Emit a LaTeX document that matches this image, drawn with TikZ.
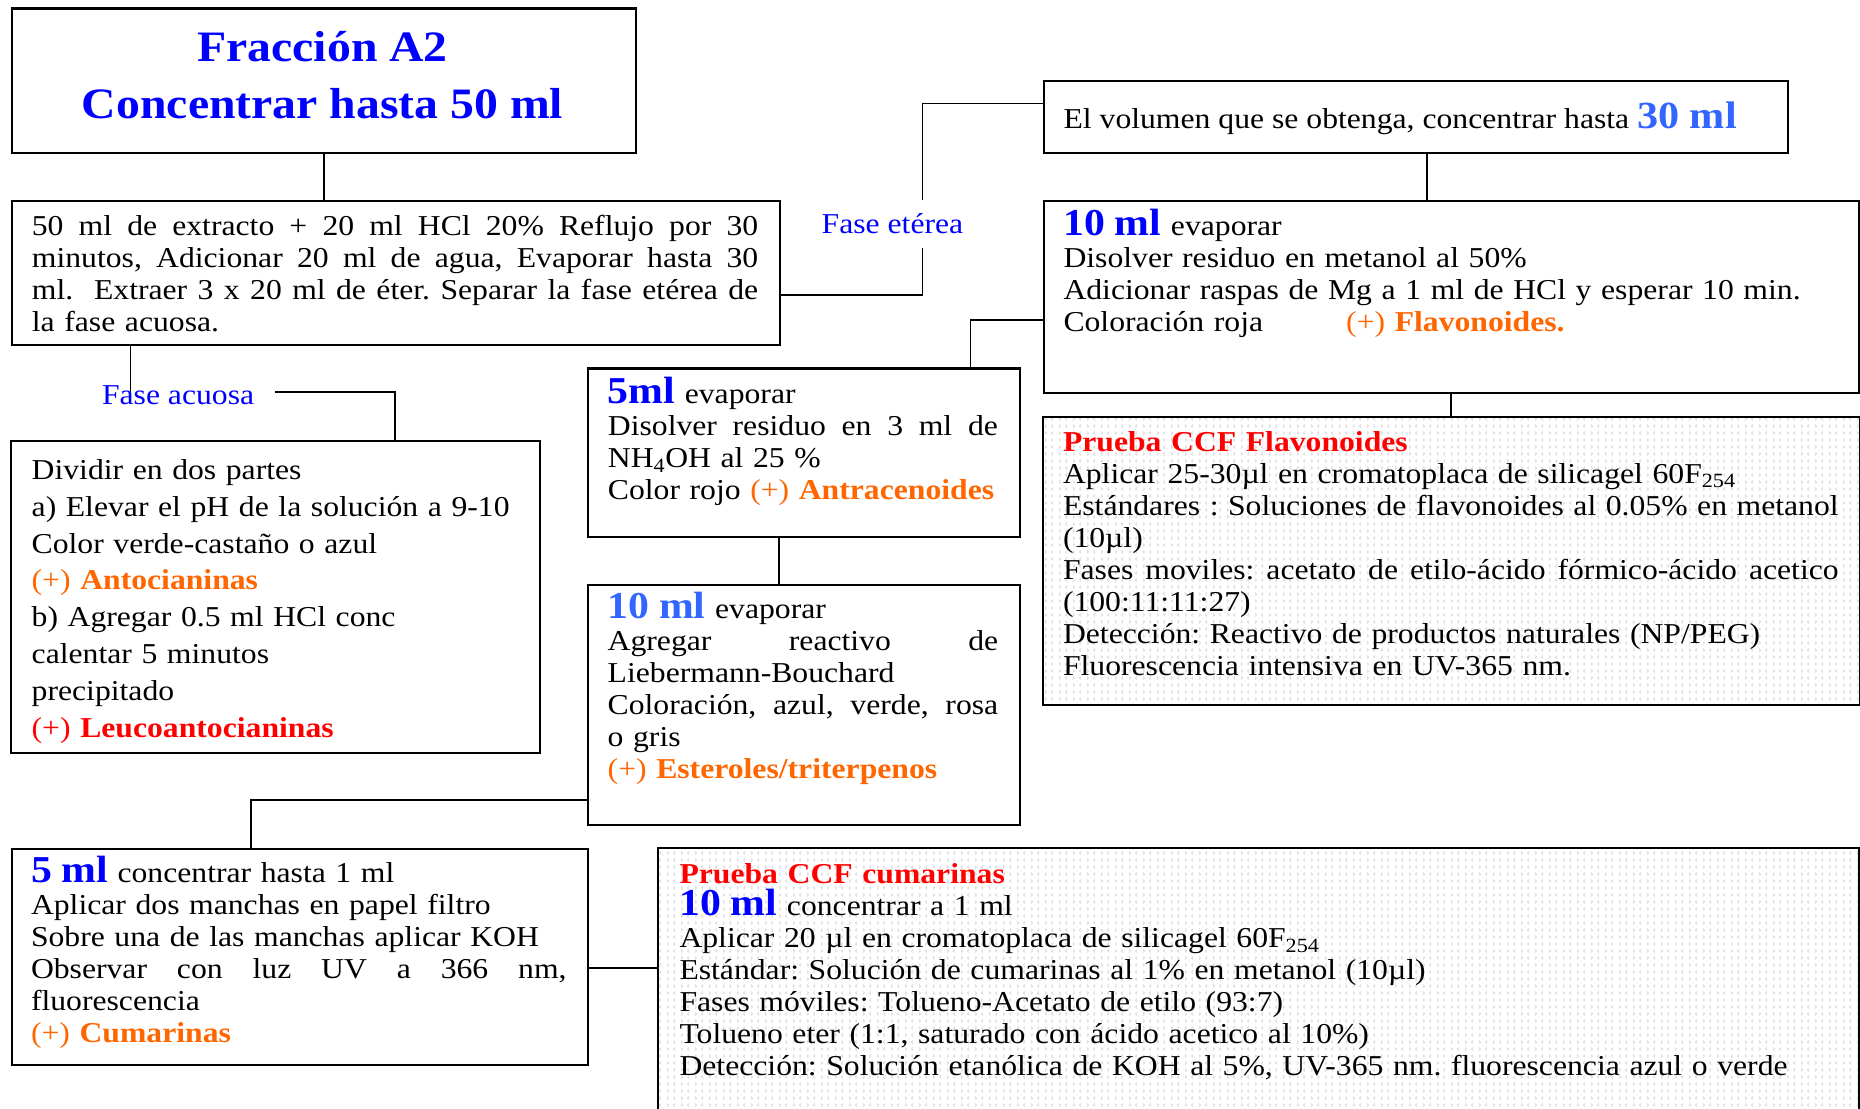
\documentclass[tikz,border=0pt]{standalone}
\usepackage{fontspec}
\setmainfont{Liberation Serif}[FakeStretch=1.1]
\usetikzlibrary{patterns}
\setlength{\parindent}{0pt}
\frenchspacing
\definecolor{tblue}{RGB}{0,0,255}
\definecolor{lblue}{RGB}{51,102,255}
\definecolor{torange}{RGB}{255,102,0}
\definecolor{tred}{RGB}{255,0,0}
\pgfdeclarepatternformonly{chevs}{\pgfpoint{-1pt}{-1pt}}{\pgfpoint{15pt}{8pt}}{\pgfpoint{14pt}{7pt}}{%
  \pgfsetlinewidth{0.5pt}%
  \pgfpathmoveto{\pgfpoint{3pt}{1.5pt}}\pgfpathlineto{\pgfpoint{1.5pt}{3pt}}\pgfpathlineto{\pgfpoint{3pt}{4.5pt}}%
  \pgfpathmoveto{\pgfpoint{9pt}{1.5pt}}\pgfpathlineto{\pgfpoint{10.5pt}{3pt}}\pgfpathlineto{\pgfpoint{9pt}{4.5pt}}%
  \pgfusepath{stroke}}
\newcommand\jl[2]{\leavevmode\hbox to #1{\spaceskip=\fontdimen2\font plus 1fil\relax\xspaceskip=\spaceskip #2}}
\newcommand\bigml[2]{{\fontsize{38}{32}\selectfont\bfseries\color{#1}#2}}
\newcommand\posres[2]{{\color{#1}(+) \textbf{#2}}}
\newcommand\firstrule{\rule{0pt}{30pt}}
\newcommand\bodyfont{\fontsize{28.8}{32}\selectfont\frenchspacing}
\newcommand\widefont{\fontsize{28.8}{36.8}\selectfont\frenchspacing}
\begin{document}
\begin{tikzpicture}[x=1pt,y=-1pt,
  box/.style={draw, line width=2.2pt, inner sep=0pt, anchor=north west},
  patbox/.style={box, pattern=chevs, pattern color=black!22},
  txt/.style={inner sep=0pt, anchor=north west, align=left, font=\bodyfont},
  one/.style={inner sep=0pt, anchor=base west, font=\bodyfont},
  conn/.style={line width=1.6pt}]
\useasboundingbox (0,0) rectangle (1860,1108);
\fill[white] (0,0) rectangle (1860,1108);

% boxes
\node[box, minimum width=623.9pt, minimum height=144.5pt] (A) at (10.7,7.5) {};
\node[box, minimum width=768pt, minimum height=143.7pt] (B) at (10.7,200) {};
\node[box, minimum width=744.3pt, minimum height=72pt] (C) at (1042.7,80) {};
\node[box, minimum width=815.3pt, minimum height=191.7pt] (D) at (1042.7,200) {};
\node[patbox, minimum width=816.9pt, minimum height=288.3pt] (E) at (1041.6,415.7) {};
\node[box, minimum width=529pt, minimum height=312pt] (F) at (10,440) {};
\node[box, minimum width=432pt, minimum height=168.7pt] (G) at (586.7,367.3) {};
\node[box, minimum width=432pt, minimum height=240.3pt] (H) at (586.7,583.7) {};
\node[box, minimum width=575.9pt, minimum height=216.3pt] (I) at (10.7,847.7) {};
\node[patbox, minimum width=1200.6pt, minimum height=300pt] (J) at (657,846.7) {};

% connectors
\coordinate (etLow) at (922.3,248);
\coordinate (etHigh) at (922.3,200);
\coordinate (acEnd) at (130.5,393);
\coordinate (acStart) at (274.6,392);
\draw[conn] (A.south) -- (A.south |- B.north);
\draw[conn] (B.east |- 0,295) -| (etLow);
\draw[conn] (etHigh) |- (C.west |- 0,103.3);
\draw[conn] (C.south -| 1427,0) -- (D.north -| 1427,0);
\draw[conn] (D.west |- 0,320) -| (G.north -| 970.3,0);
\draw[conn] (D.south -| 1450.9,0) -- (E.north -| 1450.9,0);
\draw[conn] (B.south -| acEnd) -- (acEnd);
\draw[conn] (acStart) -| (F.north -| 395,0);
\draw[conn] (G.south -| 779,0) -- (H.north -| 779,0);
\draw[conn] (H.west |- 0,800) -| (I.north -| 250.7,0);
\draw[conn] (I.east |- 0,967.7) -- (J.west |- 0,967.7);

% title
\node[inner sep=0pt, anchor=north, align=center, text=tblue,
  font=\bfseries\fontsize{43.4}{56.3}\selectfont] (tA) at (322.6,21.7)
  {\rule{0pt}{40pt}Fracción A2\\Concentrar hasta 50 ml};

% B
\node[txt, text width=730pt] (tB) at (31.7,205) {\firstrule\jl{726.3pt}{50 ml de extracto + 20 ml HCl 20\% Reflujo por 30}\\
\jl{726.3pt}{minutos, Adicionar 20 ml de agua, Evaporar hasta 30}\\
\jl{726.3pt}{ml.\space\space Extraer 3 x 20 ml de éter. Separar la fase etérea de}\\
la fase acuosa.};

% labels
\node[one, text=tblue] (lEt) at (821.5,233) {Fase etérea};
\node[one, text=tblue] (lAc) at (101.8,404) {Fase acuosa};

% C
\node[one] (tC) at (1063.4,128.3) {El volumen que se obtenga, concentrar hasta {\fontsize{38.4}{40}\selectfont\bfseries\color{lblue}30 ml}};

% D
\node[txt, text width=790pt] (tD) at (1063.3,205) {\firstrule\bigml{tblue}{10 ml} evaporar\\
Disolver residuo en metanol al 50\%\\
Adicionar raspas de Mg a 1 ml de HCl y esperar 10 min.\\
\makebox[282.7pt][l]{Coloración roja}\posres{torange}{Flavonoides.}};

% E
\node[txt, text width=780pt] (tE) at (1062.8,421) {\firstrule{\color{tred}\bfseries Prueba CCF Flavonoides}\\
Aplicar 25-30µl en cromatoplaca de silicagel 60F\textsubscript{254}\\
\jl{775.6pt}{Estándares : Soluciones de flavonoides al 0.05\% en metanol}\\
(10µl)\\
\jl{775.6pt}{Fases moviles: acetato de etilo-ácido fórmico-ácido acetico}\\
(100:11:11:27)\\
Detección: Reactivo de productos naturales (NP/PEG)\\
Fluorescencia intensiva en UV-365 nm.};

% F
\node[txt, text width=505pt, font=\widefont] (tF) at (31.5,449.3) {\firstrule Dividir en dos partes\\
a) Elevar el pH de la solución a 9-10\\
Color verde-castaño o azul\\
\posres{torange}{Antocianinas}\\
b) Agregar 0.5 ml HCl conc\\
calentar 5 minutos\\
precipitado\\
\posres{tred}{Leucoantocianinas}};

% G
\node[txt, text width=392pt] (tG) at (607.7,373.5) {\firstrule\bigml{tblue}{5ml} evaporar\\
\jl{390pt}{Disolver residuo en 3 ml de}\\
NH\textsubscript{4}OH al 25 \%\\
Color rojo \posres{torange}{Antracenoides}};

% H
\node[txt, text width=392pt] (tH) at (607.5,588.3) {\firstrule\bigml{lblue}{10 ml} evaporar\\
\jl{390.5pt}{Agregar reactivo de}\\
Liebermann-Bouchard\\
\jl{390.5pt}{Coloración, azul, verde, rosa}\\
o gris\\
\posres{torange}{Esteroles/triterpenos}};

% I
\node[txt, text width=540pt] (tI) at (30.8,852.7) {\firstrule\bigml{tblue}{5 ml} concentrar hasta 1 ml\\
Aplicar dos manchas en papel filtro\\
Sobre una de las manchas aplicar KOH\\
\jl{535.6pt}{Observar con luz UV a 366 nm,}\\
fluorescencia\\
\posres{torange}{Cumarinas}};

% J
\node[txt, text width=1160pt] (tJ) at (679.3,853.3) {\firstrule{\color{tred}\bfseries Prueba CCF cumarinas}\\
\bigml{tblue}{10 ml} concentrar a 1 ml\\
Aplicar 20 µl en cromatoplaca de silicagel 60F\textsubscript{254}\\
Estándar: Solución de cumarinas al 1\% en metanol (10µl)\\
Fases móviles: Tolueno-Acetato de etilo (93:7)\\
Tolueno eter (1:1, saturado con ácido acetico al 10\%)\\
Detección: Solución etanólica de KOH al 5\%, UV-365 nm. fluorescencia azul o verde};
\end{tikzpicture}
\end{document}
